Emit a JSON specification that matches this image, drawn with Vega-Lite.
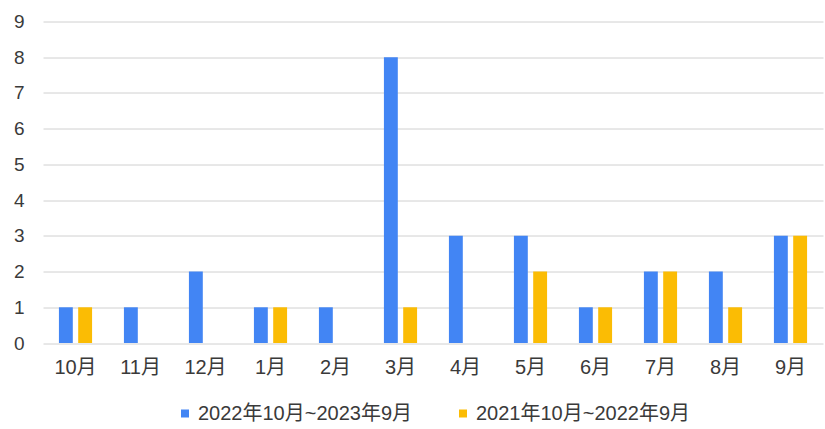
{
  "$schema": "https://vega.github.io/schema/vega-lite/v6.json",
  "width": 825,
  "height": 429,
  "autosize": {"type": "fit", "contains": "padding"},
  "padding": {"left": 13, "right": 2, "top": 12.5, "bottom": 6},
  "background": "white",
  "data": {
    "values": [
      {"month": "10月", "series": "2022年10月~2023年9月", "value": 1},
      {"month": "11月", "series": "2022年10月~2023年9月", "value": 1},
      {"month": "12月", "series": "2022年10月~2023年9月", "value": 2},
      {"month": "1月", "series": "2022年10月~2023年9月", "value": 1},
      {"month": "2月", "series": "2022年10月~2023年9月", "value": 1},
      {"month": "3月", "series": "2022年10月~2023年9月", "value": 8},
      {"month": "4月", "series": "2022年10月~2023年9月", "value": 3},
      {"month": "5月", "series": "2022年10月~2023年9月", "value": 3},
      {"month": "6月", "series": "2022年10月~2023年9月", "value": 1},
      {"month": "7月", "series": "2022年10月~2023年9月", "value": 2},
      {"month": "8月", "series": "2022年10月~2023年9月", "value": 2},
      {"month": "9月", "series": "2022年10月~2023年9月", "value": 3},
      {"month": "10月", "series": "2021年10月~2022年9月", "value": 1},
      {"month": "11月", "series": "2021年10月~2022年9月", "value": 0},
      {"month": "12月", "series": "2021年10月~2022年9月", "value": 0},
      {"month": "1月", "series": "2021年10月~2022年9月", "value": 1},
      {"month": "2月", "series": "2021年10月~2022年9月", "value": 0},
      {"month": "3月", "series": "2021年10月~2022年9月", "value": 1},
      {"month": "4月", "series": "2021年10月~2022年9月", "value": 0},
      {"month": "5月", "series": "2021年10月~2022年9月", "value": 2},
      {"month": "6月", "series": "2021年10月~2022年9月", "value": 1},
      {"month": "7月", "series": "2021年10月~2022年9月", "value": 2},
      {"month": "8月", "series": "2021年10月~2022年9月", "value": 1},
      {"month": "9月", "series": "2021年10月~2022年9月", "value": 3}
    ]
  },
  "config": {
    "font": "Liberation Sans, Noto Sans CJK SC, sans-serif",
    "view": {"stroke": null},
    "legend": {"layout": {"bottom": {"anchor": "middle"}}}
  },
  "mark": {"type": "bar"},
  "encoding": {
    "x": {
      "field": "month",
      "type": "nominal",
      "sort": ["10月","11月","12月","1月","2月","3月","4月","5月","6月","7月","8月","9月"],
      "scale": {"paddingInner": 0.49, "paddingOuter": 0.245},
      "axis": {
        "title": null,
        "labelAngle": 0,
        "labelFontSize": 20,
        "labelColor": "#3a3a3a",
        "labelPadding": 14,
        "ticks": false,
        "domain": false
      }
    },
    "xOffset": {
      "field": "series",
      "type": "nominal",
      "sort": ["2022年10月~2023年9月", "2021年10月~2022年9月"],
      "scale": {"paddingInner": 0.28}
    },
    "y": {
      "field": "value",
      "type": "quantitative",
      "scale": {"domain": [0, 9], "nice": false},
      "axis": {
        "title": null,
        "values": [0,1,2,3,4,5,6,7,8,9],
        "labelFontSize": 19,
        "labelColor": "#3a3a3a",
        "labelPadding": 19,
        "ticks": false,
        "domain": false,
        "gridColor": "#d0d0d0",
        "gridWidth": 1
      }
    },
    "color": {
      "field": "series",
      "type": "nominal",
      "sort": ["2022年10月~2023年9月", "2021年10月~2022年9月"],
      "scale": {"domain": ["2022年10月~2023年9月", "2021年10月~2022年9月"], "range": ["#4285F4", "#FBBC04"]},
      "legend": {
        "title": null,
        "orient": "bottom",
        "direction": "horizontal",
        "symbolType": "square",
        "symbolSize": 64,
        "labelFontSize": 20,
        "labelLimit": 0,
        "labelColor": "#3a3a3a",
        "labelOffset": 3,
        "columnPadding": 40,
        "offset": 26
      }
    }
  }
}
